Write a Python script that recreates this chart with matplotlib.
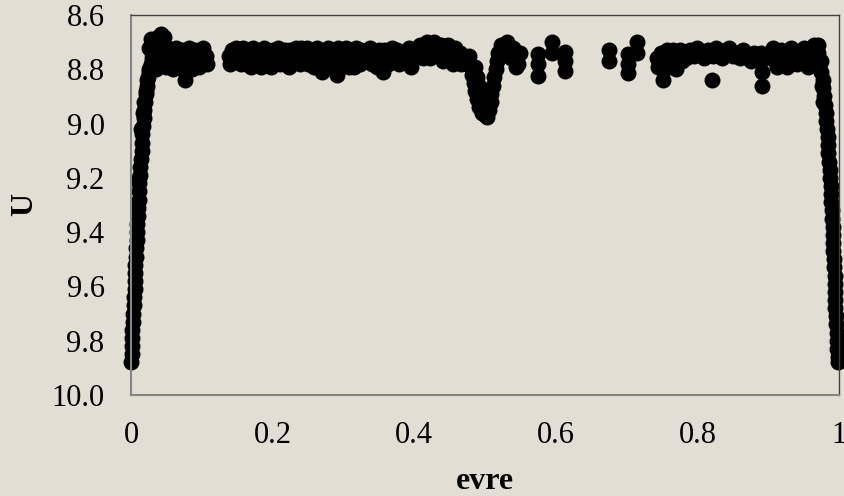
import matplotlib.pyplot as plt

# primary eclipse egress (phase near 0)
egress_phase = [0.000, 0.001, 0.001, 0.002, 0.002, 0.003, 0.003, 0.004, 0.004, 0.005,
                0.005, 0.006, 0.006, 0.007, 0.007, 0.008, 0.009, 0.009, 0.010, 0.010,
                0.011, 0.011, 0.012, 0.013, 0.013, 0.014, 0.015, 0.015, 0.016, 0.017,
                0.018, 0.019, 0.020, 0.021, 0.022, 0.024, 0.026, 0.028, 0.030,
                0.019, 0.021, 0.023, 0.025, 0.017, 0.014, 0.011]
egress_mag = [9.88, 9.85, 9.82, 9.79, 9.76, 9.73, 9.70, 9.67, 9.64, 9.61,
              9.58, 9.55, 9.52, 9.49, 9.46, 9.43, 9.40, 9.37, 9.34, 9.31,
              9.28, 9.25, 9.22, 9.19, 9.16, 9.13, 9.10, 9.07, 9.04, 9.01,
              8.98, 8.95, 8.92, 8.89, 8.86, 8.83, 8.80, 8.78, 8.76,
              8.92, 8.88, 8.84, 8.81, 8.96, 9.02, 9.20]

# out of eclipse, first half
max1_phase = [0.026, 0.028, 0.030, 0.032, 0.033, 0.034, 0.036, 0.036, 0.038, 0.040,
              0.040, 0.042, 0.044, 0.045, 0.046, 0.048, 0.050, 0.052, 0.053, 0.056,
              0.058, 0.060, 0.062, 0.064, 0.066, 0.068, 0.070, 0.072, 0.074, 0.076,
              0.078, 0.080, 0.082, 0.084, 0.086, 0.088, 0.090, 0.092, 0.094, 0.096,
              0.098, 0.100, 0.102, 0.104, 0.106, 0.108,
              0.138, 0.140, 0.142, 0.146, 0.148, 0.150, 0.153, 0.155, 0.158, 0.160,
              0.163, 0.165, 0.168, 0.170, 0.173, 0.175, 0.178, 0.180, 0.183, 0.185,
              0.188, 0.190, 0.193, 0.195, 0.198, 0.200, 0.203, 0.205, 0.208, 0.210,
              0.213, 0.215, 0.218, 0.220, 0.223, 0.225, 0.228, 0.230, 0.233, 0.235,
              0.238, 0.240, 0.243, 0.245, 0.248, 0.250, 0.253, 0.255, 0.258, 0.260,
              0.263, 0.265, 0.268, 0.270, 0.272, 0.276, 0.278, 0.280, 0.283, 0.285,
              0.288, 0.290, 0.291, 0.293, 0.295, 0.298, 0.300, 0.303, 0.305, 0.308,
              0.310, 0.313, 0.315, 0.318, 0.320, 0.323, 0.325, 0.328, 0.330,
              0.335, 0.338, 0.340, 0.343, 0.345, 0.348, 0.350, 0.353, 0.356, 0.358,
              0.360, 0.363, 0.365, 0.368, 0.370, 0.373, 0.375, 0.378, 0.380, 0.385,
              0.390, 0.393, 0.395, 0.398, 0.400, 0.403, 0.405, 0.408, 0.410, 0.413,
              0.415, 0.418, 0.420, 0.423, 0.425, 0.428, 0.430, 0.433, 0.435, 0.438,
              0.440, 0.443, 0.445, 0.448, 0.450, 0.453, 0.455, 0.458, 0.460, 0.462,
              0.464, 0.466]
max1_mag = [8.72, 8.69, 8.74, 8.78, 8.73, 8.70, 8.76, 8.80, 8.68, 8.73,
            8.78, 8.67, 8.71, 8.75, 8.68, 8.72, 8.79, 8.72, 8.75, 8.73,
            8.78, 8.80, 8.76, 8.72, 8.74, 8.79, 8.77, 8.73, 8.80, 8.84,
            8.78, 8.75, 8.72, 8.74, 8.80, 8.78, 8.73, 8.76, 8.74, 8.79,
            8.77, 8.74, 8.72, 8.76, 8.75, 8.78,
            8.75, 8.78, 8.73, 8.77, 8.72, 8.74, 8.75, 8.78, 8.72, 8.76,
            8.78, 8.73, 8.75, 8.79, 8.72, 8.75, 8.74, 8.77, 8.79, 8.74,
            8.72, 8.78, 8.74, 8.76, 8.79, 8.73, 8.77, 8.75, 8.72, 8.78,
            8.77, 8.74, 8.73, 8.76, 8.79, 8.73, 8.74, 8.77, 8.72, 8.75,
            8.78, 8.72, 8.76, 8.74, 8.72, 8.78, 8.76, 8.73, 8.79, 8.76,
            8.72, 8.75, 8.77, 8.81, 8.78, 8.74, 8.72, 8.76, 8.78, 8.73,
            8.75, 8.79, 8.82, 8.72, 8.76, 8.78, 8.74, 8.72, 8.77, 8.79,
            8.75, 8.73, 8.79, 8.72, 8.75, 8.78, 8.73, 8.75, 8.77,
            8.74, 8.72, 8.78, 8.76, 8.75, 8.79, 8.73, 8.76, 8.81, 8.73,
            8.76, 8.78, 8.74, 8.72, 8.77, 8.76, 8.73, 8.78, 8.75, 8.74,
            8.76, 8.72, 8.79, 8.76, 8.73, 8.75, 8.72, 8.71, 8.75, 8.76,
            8.73, 8.70, 8.72, 8.76, 8.74, 8.70, 8.72, 8.73, 8.75, 8.71,
            8.77, 8.76, 8.73, 8.71, 8.74, 8.73, 8.78, 8.72, 8.76, 8.77,
            8.74, 8.78]

# secondary eclipse
sec_phase = [0.470, 0.474, 0.478, 0.480, 0.482, 0.484, 0.486, 0.489, 0.492, 0.496,
             0.500, 0.503, 0.506, 0.508, 0.509, 0.511, 0.513, 0.515, 0.517, 0.519,
             0.522, 0.486, 0.489, 0.491, 0.494, 0.498, 0.502, 0.505]
sec_mag = [8.76, 8.78, 8.75, 8.79, 8.82, 8.85, 8.88, 8.91, 8.94, 8.96,
           8.97, 8.975, 8.95, 8.92, 8.89, 8.86, 8.83, 8.80, 8.77, 8.74,
           8.71, 8.79, 8.83, 8.86, 8.89, 8.92, 8.94, 8.91]

# out of eclipse, second half
max2_phase = [0.524, 0.527, 0.531, 0.534, 0.537, 0.540, 0.543, 0.544, 0.546, 0.549,
              0.575, 0.575, 0.575, 0.595, 0.595, 0.613, 0.613, 0.613,
              0.675, 0.675, 0.702, 0.702, 0.702, 0.715, 0.715,
              0.743, 0.745, 0.748, 0.751, 0.752, 0.755, 0.757, 0.760, 0.762, 0.765,
              0.767, 0.770, 0.772, 0.775, 0.778, 0.781, 0.784,
              0.790, 0.795, 0.800, 0.805, 0.810, 0.815, 0.820, 0.822, 0.826, 0.830,
              0.835, 0.840, 0.845, 0.850, 0.855, 0.860, 0.865, 0.870, 0.875, 0.880,
              0.885, 0.891, 0.891, 0.890, 0.895,
              0.903, 0.907, 0.909, 0.912, 0.918, 0.922, 0.926, 0.932, 0.936, 0.940,
              0.946, 0.950, 0.953, 0.956]
max2_mag = [8.74, 8.71, 8.70, 8.73, 8.76, 8.72, 8.75, 8.79, 8.78, 8.74,
            8.745, 8.78, 8.825, 8.70, 8.74, 8.735, 8.77, 8.805,
            8.73, 8.77, 8.745, 8.78, 8.815, 8.70, 8.74,
            8.76, 8.79, 8.74, 8.84, 8.80, 8.76, 8.73, 8.79, 8.75, 8.73,
            8.77, 8.80, 8.75, 8.73, 8.77, 8.74, 8.76,
            8.73, 8.75, 8.72, 8.74, 8.76, 8.73, 8.84, 8.75, 8.72, 8.74,
            8.76, 8.73, 8.72, 8.75, 8.74, 8.76, 8.73, 8.75, 8.77, 8.74,
            8.76, 8.81, 8.86, 8.74, 8.76,
            8.74, 8.72, 8.77, 8.79, 8.73, 8.76, 8.79, 8.72, 8.75, 8.78,
            8.74, 8.72, 8.77, 8.79]

# primary eclipse ingress (phase near 1)
ingress_phase = [0.962, 0.965, 0.966, 0.968, 0.969, 0.970, 0.972, 0.974, 0.975, 0.977,
                 0.978, 0.979, 0.980, 0.981, 0.982, 0.983, 0.984, 0.985, 0.985, 0.986,
                 0.987, 0.987, 0.988, 0.989, 0.989, 0.990, 0.990, 0.991, 0.991, 0.992,
                 0.992, 0.993, 0.993, 0.994, 0.994, 0.995, 0.995, 0.995, 0.996, 0.996,
                 0.997, 0.997, 0.997, 0.998, 0.998, 0.976, 0.978, 0.964, 0.971]
ingress_mag = [8.72, 8.71, 8.74, 8.72, 8.76, 8.74, 8.79, 8.77, 8.81, 8.84,
               8.87, 8.90, 8.93, 8.96, 8.99, 9.02, 9.05, 9.08, 9.11, 9.14,
               9.17, 9.20, 9.23, 9.26, 9.29, 9.32, 9.35, 9.38, 9.41, 9.44,
               9.47, 9.50, 9.53, 9.56, 9.59, 9.62, 9.65, 9.68, 9.71, 9.74,
               9.77, 9.80, 9.83, 9.86, 9.88, 8.86, 8.92, 8.77, 8.71]

phase = egress_phase + max1_phase + sec_phase + max2_phase + ingress_phase
mag = egress_mag + max1_mag + sec_mag + max2_mag + ingress_mag

x_ticks = [0, 0.2, 0.4, 0.6, 0.8, 1]
x_labels = ["0", "0.2", "0.4", "0.6", "0.8", "1"]
y_ticks = [8.6, 8.8, 9.0, 9.2, 9.4, 9.6, 9.8, 10.0]
y_labels = ["8.6", "8.8", "9.0", "9.2", "9.4", "9.6", "9.8", "10.0"]

bg = "#E3DED4"
plt.rcParams["font.family"] = ["Liberation Serif", "DejaVu Serif"]

fig = plt.figure(figsize=(8.44, 4.96), dpi=100, facecolor=bg)
ax = fig.add_axes([0.1552, 0.2036, 0.8389, 0.7662], facecolor=bg)

ax.plot(phase, mag, "o", color="black", markersize=11.5, markeredgewidth=0, clip_on=False)

ax.set_xlim(0, 1)
ax.set_ylim(10.0, 8.6)
ax.set_xticks(x_ticks)
ax.set_xticklabels(x_labels)
ax.set_yticks(y_ticks)
ax.set_yticklabels(y_labels)
ax.tick_params(length=0, labelsize=22, pad=19, colors="black")

ax.set_xlabel("evre", fontsize=23, fontweight="bold", labelpad=12)
ax.set_ylabel("U", fontsize=23, fontweight="bold", labelpad=9)

for side in ["left", "bottom"]:
    ax.spines[side].set_color("#868686")
    ax.spines[side].set_linewidth(1.5)
for side in ["top", "right"]:
    ax.spines[side].set_color("#404040")
    ax.spines[side].set_linewidth(1.0)

fig.savefig("out.png", dpi=100, facecolor=bg)
